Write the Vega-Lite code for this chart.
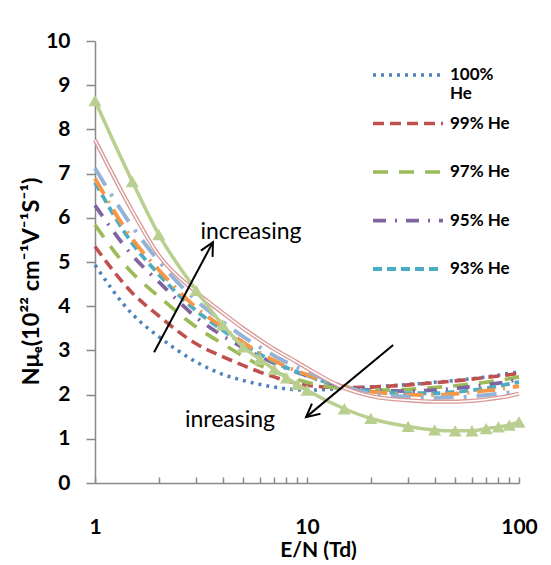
{
  "$schema": "https://vega.github.io/schema/vega-lite/v6.json",
  "width": 424,
  "height": 442,
  "autosize": {"type": "none"},
  "padding": {"left": 95, "top": 41, "right": 32, "bottom": 82},
  "background": "white",
  "config": {
    "view": {"stroke": null},
    "axis": {"grid": false, "domainColor": "#898989", "tickColor": "#898989", "domainWidth": 1.5, "tickWidth": 1.5, "labelFont": "Lato", "labelFontWeight": "bold", "labelFontSize": 21, "labelColor": "#000", "titleFont": "Lato", "titleFontWeight": "bold", "titleColor": "#000"},
    "legend": {"symbolType": "M-2.5,0H2.5", "symbolSize": 784, "labelFont": "Lato", "labelFontWeight": "bold", "labelFontSize": 17, "labelColor": "#000", "rowPadding": 5.5, "labelOffset": 26}
  },
  "datasets": {
    "main": [
      {"series":"100% He","EN":1,"mu":4.93},{"series":"100% He","EN":1.5,"mu":3.82},{"series":"100% He","EN":2,"mu":3.31},{"series":"100% He","EN":3,"mu":2.74},{"series":"100% He","EN":4,"mu":2.46},{"series":"100% He","EN":5,"mu":2.32},{"series":"100% He","EN":6,"mu":2.23},{"series":"100% He","EN":7,"mu":2.17},{"series":"100% He","EN":8,"mu":2.13},{"series":"100% He","EN":9,"mu":2.11},{"series":"100% He","EN":10,"mu":2.10},{"series":"100% He","EN":15,"mu":2.14},{"series":"100% He","EN":20,"mu":2.17},{"series":"100% He","EN":30,"mu":2.23},{"series":"100% He","EN":40,"mu":2.28},{"series":"100% He","EN":50,"mu":2.32},{"series":"100% He","EN":60,"mu":2.36},{"series":"100% He","EN":70,"mu":2.40},{"series":"100% He","EN":80,"mu":2.44},{"series":"100% He","EN":90,"mu":2.48},{"series":"100% He","EN":100,"mu":2.51},
      {"series":"99% He","EN":1,"mu":5.35},{"series":"99% He","EN":1.5,"mu":4.30},{"series":"99% He","EN":2,"mu":3.78},{"series":"99% He","EN":3,"mu":3.15},{"series":"99% He","EN":4,"mu":2.86},{"series":"99% He","EN":5,"mu":2.66},{"series":"99% He","EN":6,"mu":2.51},{"series":"99% He","EN":7,"mu":2.40},{"series":"99% He","EN":8,"mu":2.31},{"series":"99% He","EN":9,"mu":2.25},{"series":"99% He","EN":10,"mu":2.21},{"series":"99% He","EN":15,"mu":2.16},{"series":"99% He","EN":20,"mu":2.17},{"series":"99% He","EN":30,"mu":2.22},{"series":"99% He","EN":40,"mu":2.27},{"series":"99% He","EN":50,"mu":2.31},{"series":"99% He","EN":60,"mu":2.35},{"series":"99% He","EN":70,"mu":2.39},{"series":"99% He","EN":80,"mu":2.42},{"series":"99% He","EN":90,"mu":2.45},{"series":"99% He","EN":100,"mu":2.48},
      {"series":"97% He","EN":1,"mu":5.84},{"series":"97% He","EN":1.5,"mu":4.75},{"series":"97% He","EN":2,"mu":4.22},{"series":"97% He","EN":3,"mu":3.53},{"series":"97% He","EN":4,"mu":3.15},{"series":"97% He","EN":5,"mu":2.87},{"series":"97% He","EN":6,"mu":2.66},{"series":"97% He","EN":7,"mu":2.52},{"series":"97% He","EN":8,"mu":2.42},{"series":"97% He","EN":9,"mu":2.34},{"series":"97% He","EN":10,"mu":2.28},{"series":"97% He","EN":15,"mu":2.13},{"series":"97% He","EN":20,"mu":2.10},{"series":"97% He","EN":30,"mu":2.12},{"series":"97% He","EN":40,"mu":2.16},{"series":"97% He","EN":50,"mu":2.20},{"series":"97% He","EN":60,"mu":2.24},{"series":"97% He","EN":70,"mu":2.28},{"series":"97% He","EN":80,"mu":2.32},{"series":"97% He","EN":90,"mu":2.36},{"series":"97% He","EN":100,"mu":2.40},
      {"series":"95% He","EN":1,"mu":6.28},{"series":"95% He","EN":1.5,"mu":5.15},{"series":"95% He","EN":2,"mu":4.55},{"series":"95% He","EN":3,"mu":3.75},{"series":"95% He","EN":4,"mu":3.33},{"series":"95% He","EN":5,"mu":3.06},{"series":"95% He","EN":6,"mu":2.86},{"series":"95% He","EN":7,"mu":2.71},{"series":"95% He","EN":8,"mu":2.59},{"series":"95% He","EN":9,"mu":2.50},{"series":"95% He","EN":10,"mu":2.42},{"series":"95% He","EN":15,"mu":2.18},{"series":"95% He","EN":20,"mu":2.10},{"series":"95% He","EN":30,"mu":2.08},{"series":"95% He","EN":40,"mu":2.10},{"series":"95% He","EN":50,"mu":2.14},{"series":"95% He","EN":60,"mu":2.18},{"series":"95% He","EN":70,"mu":2.22},{"series":"95% He","EN":80,"mu":2.26},{"series":"95% He","EN":90,"mu":2.30},{"series":"95% He","EN":100,"mu":2.34},
      {"series":"93% He","EN":1,"mu":6.80},{"series":"93% He","EN":1.5,"mu":5.42},{"series":"93% He","EN":2,"mu":4.72},{"series":"93% He","EN":3,"mu":3.90},{"series":"93% He","EN":4,"mu":3.46},{"series":"93% He","EN":5,"mu":3.14},{"series":"93% He","EN":6,"mu":2.91},{"series":"93% He","EN":7,"mu":2.74},{"series":"93% He","EN":8,"mu":2.61},{"series":"93% He","EN":9,"mu":2.51},{"series":"93% He","EN":10,"mu":2.43},{"series":"93% He","EN":15,"mu":2.17},{"series":"93% He","EN":20,"mu":2.08},{"series":"93% He","EN":30,"mu":2.03},{"series":"93% He","EN":40,"mu":2.03},{"series":"93% He","EN":50,"mu":2.06},{"series":"93% He","EN":60,"mu":2.10},{"series":"93% He","EN":70,"mu":2.14},{"series":"93% He","EN":80,"mu":2.19},{"series":"93% He","EN":90,"mu":2.24},{"series":"93% He","EN":100,"mu":2.29},
      {"series":"90% He","EN":1,"mu":6.89},{"series":"90% He","EN":1.5,"mu":5.52},{"series":"90% He","EN":2,"mu":4.82},{"series":"90% He","EN":3,"mu":3.97},{"series":"90% He","EN":4,"mu":3.52},{"series":"90% He","EN":5,"mu":3.18},{"series":"90% He","EN":6,"mu":2.94},{"series":"90% He","EN":7,"mu":2.77},{"series":"90% He","EN":8,"mu":2.63},{"series":"90% He","EN":9,"mu":2.53},{"series":"90% He","EN":10,"mu":2.45},{"series":"90% He","EN":15,"mu":2.18},{"series":"90% He","EN":20,"mu":2.07},{"series":"90% He","EN":30,"mu":2.00},{"series":"90% He","EN":40,"mu":1.99},{"series":"90% He","EN":50,"mu":2.02},{"series":"90% He","EN":60,"mu":2.05},{"series":"90% He","EN":70,"mu":2.09},{"series":"90% He","EN":80,"mu":2.12},{"series":"90% He","EN":90,"mu":2.16},{"series":"90% He","EN":100,"mu":2.19},
      {"series":"85% He","EN":1,"mu":7.12},{"series":"85% He","EN":1.5,"mu":5.80},{"series":"85% He","EN":2,"mu":5.02},{"series":"85% He","EN":3,"mu":4.13},{"series":"85% He","EN":4,"mu":3.65},{"series":"85% He","EN":5,"mu":3.31},{"series":"85% He","EN":6,"mu":3.07},{"series":"85% He","EN":7,"mu":2.88},{"series":"85% He","EN":8,"mu":2.73},{"series":"85% He","EN":9,"mu":2.61},{"series":"85% He","EN":10,"mu":2.52},{"series":"85% He","EN":15,"mu":2.18},{"series":"85% He","EN":20,"mu":2.02},{"series":"85% He","EN":30,"mu":1.95},{"series":"85% He","EN":40,"mu":1.93},{"series":"85% He","EN":50,"mu":1.94},{"series":"85% He","EN":60,"mu":1.96},{"series":"85% He","EN":70,"mu":1.99},{"series":"85% He","EN":80,"mu":2.02},{"series":"85% He","EN":90,"mu":2.05},{"series":"85% He","EN":100,"mu":2.08}
    ],
    "pink": [
      {"series":"80% He","EN":1,"mu":7.76},{"series":"80% He","EN":1.5,"mu":6.15},{"series":"80% He","EN":2,"mu":5.15},{"series":"80% He","EN":3,"mu":4.32},{"series":"80% He","EN":4,"mu":3.85},{"series":"80% He","EN":5,"mu":3.50},{"series":"80% He","EN":6,"mu":3.24},{"series":"80% He","EN":7,"mu":3.03},{"series":"80% He","EN":8,"mu":2.87},{"series":"80% He","EN":9,"mu":2.73},{"series":"80% He","EN":10,"mu":2.60},{"series":"80% He","EN":15,"mu":2.15},{"series":"80% He","EN":20,"mu":1.97},{"series":"80% He","EN":30,"mu":1.87},{"series":"80% He","EN":40,"mu":1.84},{"series":"80% He","EN":50,"mu":1.84},{"series":"80% He","EN":60,"mu":1.86},{"series":"80% He","EN":70,"mu":1.89},{"series":"80% He","EN":80,"mu":1.93},{"series":"80% He","EN":90,"mu":1.97},{"series":"80% He","EN":100,"mu":2.02}
    ],
    "tri": [
      {"series":"70% He","EN":1,"mu":8.65},{"series":"70% He","EN":1.5,"mu":6.82},{"series":"70% He","EN":2,"mu":5.62},{"series":"70% He","EN":3,"mu":4.36},{"series":"70% He","EN":4,"mu":3.58},{"series":"70% He","EN":5,"mu":3.08},{"series":"70% He","EN":6,"mu":2.80},{"series":"70% He","EN":7,"mu":2.57},{"series":"70% He","EN":8,"mu":2.38},{"series":"70% He","EN":9,"mu":2.23},{"series":"70% He","EN":10,"mu":2.10},{"series":"70% He","EN":15,"mu":1.68},{"series":"70% He","EN":20,"mu":1.46},{"series":"70% He","EN":30,"mu":1.28},{"series":"70% He","EN":40,"mu":1.20},{"series":"70% He","EN":50,"mu":1.18},{"series":"70% He","EN":60,"mu":1.18},{"series":"70% He","EN":70,"mu":1.23},{"series":"70% He","EN":80,"mu":1.27},{"series":"70% He","EN":90,"mu":1.31},{"series":"70% He","EN":100,"mu":1.38}
    ],
    "arrows": [
      {"EN":1.90,"mu":2.96,"EN2":3.60,"mu2":5.45},
      {"EN":25.5,"mu":3.12,"EN2":9.9,"mu2":1.49}
    ],
    "heads": [
      {"EN":3.60,"mu":5.45,"angle":28},
      {"EN":9.9,"mu":1.49,"angle":230}
    ],
    "notes": [
      {"EN":5.44,"mu":5.68,"text":"increasing"},
      {"EN":4.33,"mu":1.43,"text":"inreasing"}
    ]
  },
  "encoding": {
    "x": {"field": "EN", "type": "quantitative", "scale": {"type": "log", "domain": [1, 100], "nice": false},
      "axis": {"title": "E/N (Td)", "values": [1,2,3,4,5,6,7,8,9,10,20,30,40,50,60,70,80,90,100],
        "labelExpr": "datum.value == 1 || datum.value == 10 || datum.value == 100 ? toString(datum.value) : ''",
        "tickSize": -6, "labelPadding": 39, "labelBaseline": "top", "labelFlush": false, "labelOverlap": false,
        "titleFontSize": 21, "titleX": 223, "titleY": 73, "titleBaseline": "alphabetic", "titleAlign": "center"}},
    "y": {"field": "mu", "type": "quantitative", "scale": {"domain": [0, 10], "nice": false},
      "axis": {"title": "Nμₑ(10²² cm⁻¹V⁻¹S⁻¹)", "values": [0,1,2,3,4,5,6,7,8,9,10], "tickSize": 9, "labelPadding": 16,
        "titleFontSize": 23.5, "titleX": -64, "titleY": 240, "titleAlign": "center", "titleBaseline": "middle", "titleAngle": 270}}
  },
  "layer": [
    {
      "data": {"name": "main"},
      "mark": {"type": "line", "interpolate": "monotone", "strokeCap": "butt"},
      "encoding": {
        "color": {"field": "series", "type": "ordinal",
          "scale": {"domain": ["100% He","99% He","97% He","95% He","93% He","90% He","85% He"], "range": ["#4F81BD","#C0504D","#9BBB59","#8064A2","#4BACC6","#F79646","#95B3D7"]},
          "legend": {"orient": "none", "legendX": 297, "legendY": 18, "title": null, "values": ["100% He","99% He","97% He","95% He","93% He"],
            "labelExpr": "datum.label == '100% He' ? ['100%', 'He'] : [datum.label, '']"}},
        "strokeDash": {"field": "series", "type": "ordinal",
          "scale": {"domain": ["100% He","99% He","97% He","95% He","93% He","90% He","85% He"], "range": [[3,5],[11,6],[15,11],[13,9,2,9],[9,5],[18,8,2,8],[20,10,3,10]]},
          "legend": {"orient": "none", "legendX": 297, "legendY": 18, "title": null, "values": ["100% He","99% He","97% He","95% He","93% He"],
            "labelExpr": "datum.label == '100% He' ? ['100%', 'He'] : [datum.label, '']"}},
        "strokeWidth": {"field": "series", "type": "ordinal",
          "scale": {"domain": ["100% He","99% He","97% He","95% He","93% He","90% He","85% He"], "range": [3.5,4,4,4,1.4,4,5]},
          "legend": {"orient": "none", "legendX": 297, "legendY": 18, "title": null, "values": ["100% He","99% He","97% He","95% He","93% He"],
            "labelExpr": "datum.label == '100% He' ? ['100%', 'He'] : [datum.label, '']"}}
      }
    },
    {
      "data": {"name": "pink"},
      "mark": {"type": "line", "interpolate": "monotone", "color": "#DA9A98", "strokeWidth": 4.2},
      "encoding": {}
    },
    {
      "data": {"name": "pink"},
      "mark": {"type": "line", "interpolate": "monotone", "color": "#FFFFFF", "strokeWidth": 1.5},
      "encoding": {}
    },
    {
      "data": {"name": "tri"},
      "mark": {"type": "line", "interpolate": "monotone", "color": "#B9CF8F", "strokeWidth": 3.5},
      "encoding": {}
    },
    {
      "data": {"name": "tri"},
      "mark": {"type": "point", "shape": "triangle-up", "filled": true, "color": "#B9CF8F", "size": 170, "opacity": 1},
      "encoding": {}
    },
    {
      "data": {"name": "arrows"},
      "mark": {"type": "rule", "color": "#000", "strokeWidth": 2},
      "encoding": {"x2": {"field": "EN2"}, "y2": {"field": "mu2"}}
    },
    {
      "data": {"name": "heads"},
      "mark": {"type": "point", "shape": "M-0.5,1L0,0L0.5,1", "filled": false, "stroke": "#000", "strokeWidth": 2, "size": 700, "opacity": 1},
      "encoding": {"angle": {"field": "angle", "type": "quantitative", "scale": null}}
    },
    {
      "data": {"name": "notes"},
      "mark": {"type": "text", "font": "Lato", "fontSize": 23, "color": "#000", "align": "center", "baseline": "middle"},
      "encoding": {"text": {"field": "text"}}
    }
  ]
}
